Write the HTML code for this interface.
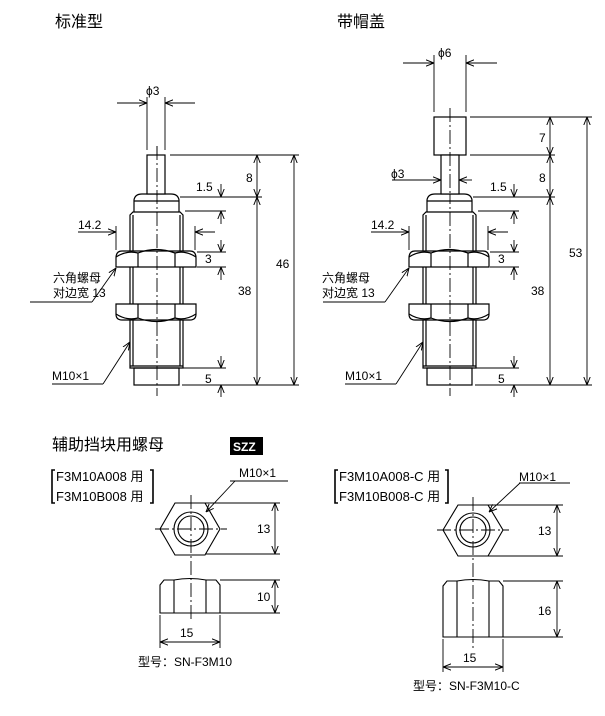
<!DOCTYPE html>
<html><head><meta charset="utf-8"><style>
html,body{margin:0;padding:0;background:#fff;}
svg{display:block;}
text{font-family:"Liberation Sans","Noto Sans CJK SC",sans-serif;fill:#000;}
</style></head><body>
<svg width="605" height="716" viewBox="0 0 605 716" xmlns="http://www.w3.org/2000/svg">
<defs>
<marker id="a" viewBox="0 0 10 10" refX="10" refY="5" markerWidth="8" markerHeight="8" markerUnits="userSpaceOnUse" orient="auto-start-reverse">
<path d="M0,1 L10,5 L0,9" fill="none" stroke="#000" stroke-width="1.2"/>
</marker>
<g id="body" fill="none" stroke="#000" stroke-width="1.2">
  <path d="M134,212 L134,200 Q135,194 142,194 L171,194 Q178,194 179,200 L179,212"/>
  <line x1="134" y1="201" x2="179" y2="201"/>
  <path d="M130,368 L130,215 L133,212 L180,212 L183,215 L183,368 Z"/>
  <line x1="133" y1="215" x2="133" y2="366"/>
  <line x1="180" y1="215" x2="180" y2="366"/>
  <line x1="130" y1="366" x2="183" y2="366"/>
  <rect x="134" y="368" width="45" height="17"/>
  <path d="M116,267 L116,258 Q116,251 122,251 L190,251 Q196,251 196,258 L196,267 Z" fill="#fff"/>
  <line x1="138" y1="253" x2="138" y2="267"/>
  <line x1="175" y1="253" x2="175" y2="267"/>
  <path d="M116,257 Q127,250 138,253 Q156,246 175,253 Q185,250 196,257"/>
  <path d="M116,304 L116,314 Q116,320 122,320 L190,320 Q196,320 196,314 L196,304 Z" fill="#fff"/>
  <line x1="138" y1="304" x2="138" y2="318"/>
  <line x1="175" y1="304" x2="175" y2="318"/>
  <path d="M116,314 Q127,321 138,318 Q156,325 175,318 Q185,321 196,314"/>
  <line x1="157" y1="146" x2="157" y2="396" stroke-width="0.9" stroke-dasharray="14,3,2,3"/>
</g>
</defs>

<text x="55" y="27" font-size="16">标准型</text>
<text x="337" y="27" font-size="16">带帽盖</text>

<use href="#body"/>
<rect x="147" y="155" width="18" height="39" fill="#fff" stroke="#000" stroke-width="1.2"/>
<line x1="157" y1="146" x2="157" y2="196" stroke="#000" stroke-width="0.9" stroke-dasharray="14,3,2,3"/>
<g stroke="#000" stroke-width="0.9" fill="none">
  <line x1="147" y1="97" x2="147" y2="150"/><line x1="165" y1="97" x2="165" y2="150"/>
  <line x1="117" y1="103" x2="147" y2="103" marker-end="url(#a)"/>
  <line x1="195" y1="103" x2="165" y2="103" marker-end="url(#a)"/>
  <line x1="170" y1="155" x2="299" y2="155"/>
  <line x1="180" y1="197" x2="262" y2="197"/>
  <line x1="185" y1="211" x2="226" y2="211"/>
  <line x1="197" y1="252" x2="226" y2="252"/>
  <line x1="197" y1="267" x2="226" y2="267"/>
  <line x1="182" y1="368" x2="226" y2="368"/>
  <line x1="182" y1="385" x2="299" y2="385"/>
  <line x1="257" y1="155" x2="257" y2="197" marker-start="url(#a)" marker-end="url(#a)"/>
  <line x1="257" y1="197" x2="257" y2="385" marker-start="url(#a)" marker-end="url(#a)"/>
  <line x1="294" y1="155" x2="294" y2="385" marker-start="url(#a)" marker-end="url(#a)"/>
  <line x1="221" y1="184" x2="221" y2="197" marker-end="url(#a)"/>
  <line x1="221" y1="224" x2="221" y2="211" marker-end="url(#a)"/>
  <line x1="221" y1="240" x2="221" y2="252" marker-end="url(#a)"/>
  <line x1="221" y1="280" x2="221" y2="267" marker-end="url(#a)"/>
  <line x1="221" y1="356" x2="221" y2="368" marker-end="url(#a)"/>
  <line x1="221" y1="397" x2="221" y2="385" marker-end="url(#a)"/>
  <line x1="116" y1="226" x2="116" y2="250"/><line x1="195" y1="226" x2="195" y2="250"/>
  <line x1="78" y1="232" x2="116" y2="232" marker-end="url(#a)"/>
  <line x1="215" y1="232" x2="195" y2="232" marker-end="url(#a)"/>
  <polyline points="30,302 92,302"/>
  <line x1="92" y1="302" x2="116" y2="268" marker-end="url(#a)"/>
  <polyline points="52,384 103,384"/>
  <line x1="103" y1="384" x2="130" y2="342" marker-end="url(#a)"/>
</g>
<g font-size="12">
  <text x="146" y="95">ϕ3</text>
  <text x="246" y="182">8</text>
  <text x="196" y="191">1.5</text>
  <text x="205" y="263">3</text>
  <text x="238" y="295">38</text>
  <text x="276" y="268">46</text>
  <text x="205" y="383">5</text>
  <text x="78" y="229">14.2</text>
  <text x="53" y="282">六角螺母</text>
  <text x="53" y="297">对边宽 13</text>
  <text x="52" y="380">M10×1</text>
</g>

<use href="#body" transform="translate(293,0)"/>
<rect x="434" y="117" width="32" height="38" fill="#fff" stroke="#000" stroke-width="1.2"/>
<rect x="441" y="155" width="18" height="39" fill="#fff" stroke="#000" stroke-width="1.2"/>
<line x1="450" y1="108" x2="450" y2="196" stroke="#000" stroke-width="0.9" stroke-dasharray="14,3,2,3"/>
<g stroke="#000" stroke-width="0.9" fill="none">
  <line x1="434" y1="55" x2="434" y2="112"/><line x1="466" y1="55" x2="466" y2="112"/>
  <line x1="403" y1="63" x2="434" y2="63" marker-end="url(#a)"/>
  <line x1="497" y1="63" x2="466" y2="63" marker-end="url(#a)"/>
  <line x1="392" y1="180" x2="441" y2="180" marker-end="url(#a)"/>
  <line x1="472" y1="180" x2="459" y2="180" marker-end="url(#a)"/>
  <line x1="470" y1="117" x2="592" y2="117"/>
  <line x1="470" y1="155" x2="555" y2="155"/>
  <line x1="473" y1="197" x2="555" y2="197"/>
  <line x1="478" y1="211" x2="519" y2="211"/>
  <line x1="490" y1="252" x2="519" y2="252"/>
  <line x1="490" y1="267" x2="519" y2="267"/>
  <line x1="475" y1="368" x2="519" y2="368"/>
  <line x1="475" y1="385" x2="592" y2="385"/>
  <line x1="550" y1="117" x2="550" y2="155" marker-start="url(#a)" marker-end="url(#a)"/>
  <line x1="550" y1="155" x2="550" y2="197" marker-start="url(#a)" marker-end="url(#a)"/>
  <line x1="550" y1="197" x2="550" y2="385" marker-start="url(#a)" marker-end="url(#a)"/>
  <line x1="587" y1="117" x2="587" y2="385" marker-start="url(#a)" marker-end="url(#a)"/>
  <line x1="514" y1="184" x2="514" y2="197" marker-end="url(#a)"/>
  <line x1="514" y1="224" x2="514" y2="211" marker-end="url(#a)"/>
  <line x1="514" y1="240" x2="514" y2="252" marker-end="url(#a)"/>
  <line x1="514" y1="280" x2="514" y2="267" marker-end="url(#a)"/>
  <line x1="514" y1="356" x2="514" y2="368" marker-end="url(#a)"/>
  <line x1="514" y1="397" x2="514" y2="385" marker-end="url(#a)"/>
  <line x1="409" y1="226" x2="409" y2="250"/><line x1="488" y1="226" x2="488" y2="250"/>
  <line x1="371" y1="232" x2="409" y2="232" marker-end="url(#a)"/>
  <line x1="508" y1="232" x2="488" y2="232" marker-end="url(#a)"/>
  <polyline points="323,302 385,302"/>
  <line x1="385" y1="302" x2="409" y2="268" marker-end="url(#a)"/>
  <polyline points="345,384 396,384"/>
  <line x1="396" y1="384" x2="423" y2="342" marker-end="url(#a)"/>
</g>
<g font-size="12">
  <text x="438" y="57">ϕ6</text>
  <text x="391" y="178">ϕ3</text>
  <text x="539" y="142">7</text>
  <text x="539" y="182">8</text>
  <text x="490" y="191">1.5</text>
  <text x="498" y="263">3</text>
  <text x="531" y="295">38</text>
  <text x="569" y="257">53</text>
  <text x="498" y="383">5</text>
  <text x="371" y="229">14.2</text>
  <text x="322" y="282">六角螺母</text>
  <text x="322" y="297">对边宽 13</text>
  <text x="345" y="380">M10×1</text>
</g>

<text x="52" y="450" font-size="16">辅助挡块用螺母</text>
<rect x="230" y="437" width="33" height="18" fill="#000"/>
<text x="233" y="451" font-size="12" font-weight="bold" style="fill:#fff">SZZ</text>
<g font-size="13">
  <text x="56" y="481">F3M10A008 用</text>
  <text x="56" y="501">F3M10B008 用</text>
</g>
<g font-size="12">
  <text x="239" y="477">M10×1</text>
  <text x="257" y="533">13</text>
  <text x="257" y="601">10</text>
  <text x="180" y="637">15</text>
  <text x="138" y="666">型号：SN-F3M10</text>
</g>
<g stroke="#000" stroke-width="1.1" fill="none">
  <path d="M55,470 L52,470 L52,503 L55,503" stroke-width="1.6"/>
  <path d="M150,470 L153,470 L153,503 L150,503" stroke-width="1.6"/>
  <polygon points="160,529 175,503 205,503 220,529 205,555 175,555"/>
  <circle cx="191" cy="529" r="17"/>
  <circle cx="191" cy="529" r="13"/>
  <path d="M160,613 L160,585 L164,580 L174,580 Q190,577 206,580 L216,580 L220,585 L220,613 Z"/>
  <line x1="174" y1="580" x2="174" y2="613"/>
  <line x1="206" y1="580" x2="206" y2="613"/>
</g>
<g stroke="#000" stroke-width="0.9" fill="none">
  <line x1="191" y1="495" x2="191" y2="622" stroke-dasharray="14,3,2,3"/>
  <line x1="155" y1="529" x2="227" y2="529" stroke-dasharray="14,3,2,3"/>
  <line x1="230" y1="481" x2="288" y2="481"/>
  <line x1="235" y1="481" x2="206" y2="512" marker-end="url(#a)"/>
  <line x1="205" y1="503" x2="280" y2="503"/>
  <line x1="205" y1="554" x2="280" y2="554"/>
  <line x1="220" y1="580" x2="280" y2="580"/>
  <line x1="220" y1="613" x2="280" y2="613"/>
  <line x1="275" y1="503" x2="275" y2="554" marker-start="url(#a)" marker-end="url(#a)"/>
  <line x1="275" y1="580" x2="275" y2="613" marker-start="url(#a)" marker-end="url(#a)"/>
  <line x1="160" y1="615" x2="160" y2="648"/>
  <line x1="220" y1="615" x2="220" y2="648"/>
  <line x1="160" y1="642" x2="220" y2="642" marker-start="url(#a)" marker-end="url(#a)"/>
</g>

<g font-size="13">
  <text x="339" y="481">F3M10A008-C 用</text>
  <text x="339" y="501">F3M10B008-C 用</text>
</g>
<g font-size="12">
  <text x="519" y="481">M10×1</text>
  <text x="538" y="535">13</text>
  <text x="538" y="615">16</text>
  <text x="463" y="662">15</text>
  <text x="413" y="690">型号：SN-F3M10-C</text>
</g>
<g stroke="#000" stroke-width="1.1" fill="none">
  <path d="M338,470 L335,470 L335,503 L338,503" stroke-width="1.6"/>
  <path d="M445,470 L448,470 L448,503 L445,503" stroke-width="1.6"/>
  <polygon points="443,530 458,505 488,505 503,530 488,556 458,556"/>
  <circle cx="473" cy="530" r="17"/>
  <circle cx="473" cy="530" r="13"/>
  <path d="M443,637 L443,586 L447,581 L457,581 Q473,578 489,581 L499,581 L503,586 L503,637 Z"/>
  <line x1="457" y1="581" x2="457" y2="637"/>
  <line x1="489" y1="581" x2="489" y2="637"/>
</g>
<g stroke="#000" stroke-width="0.9" fill="none">
  <line x1="473" y1="497" x2="473" y2="648" stroke-dasharray="14,3,2,3"/>
  <line x1="437" y1="530" x2="509" y2="530" stroke-dasharray="14,3,2,3"/>
  <line x1="519" y1="483" x2="570" y2="483"/>
  <line x1="520" y1="483" x2="489" y2="512" marker-end="url(#a)"/>
  <line x1="488" y1="505" x2="563" y2="505"/>
  <line x1="488" y1="556" x2="563" y2="556"/>
  <line x1="503" y1="581" x2="563" y2="581"/>
  <line x1="503" y1="637" x2="563" y2="637"/>
  <line x1="557" y1="505" x2="557" y2="556" marker-start="url(#a)" marker-end="url(#a)"/>
  <line x1="557" y1="581" x2="557" y2="637" marker-start="url(#a)" marker-end="url(#a)"/>
  <line x1="443" y1="639" x2="443" y2="672"/>
  <line x1="503" y1="639" x2="503" y2="672"/>
  <line x1="443" y1="667" x2="503" y2="667" marker-start="url(#a)" marker-end="url(#a)"/>
</g>
</svg>
</body></html>
